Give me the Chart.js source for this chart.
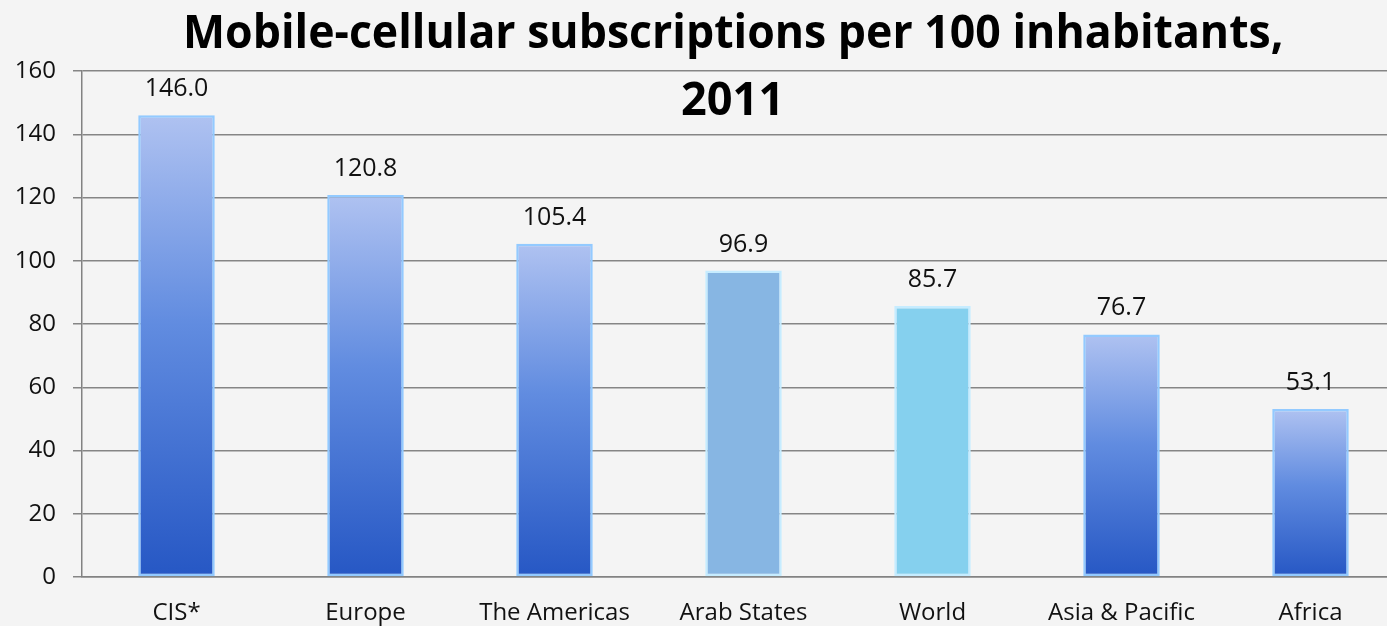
<!DOCTYPE html>
<html>
<head>
<meta charset="utf-8">
<script src="https://cdn.jsdelivr.net/npm/chart.js@4.4.1/dist/chart.umd.min.js"></script>
<style>
  html, body { margin: 0; padding: 0; background: #f4f4f4; overflow: hidden; width: 1387px; height: 626px; }
  #wrap { position: absolute; left: 0; top: 0; width: 1406px; height: 626px; }
  #title { position: absolute; left: 0; top: -3px; width: 1466px; text-align: center; font-family: "Open Sans", sans-serif; font-weight: 700; font-size: 46px; line-height: 67px; color: #000; pointer-events: none; }
  #title div { white-space: nowrap; }
  #title span { display: inline-block; transform-origin: center center; }
</style>
</head>
<body>
<div id="wrap"><canvas id="c" width="1406" height="626"></canvas></div>
<div id="title"><div><span id="t1">Mobile-cellular subscriptions per 100 inhabitants,</span></div><div><span id="t2">2011</span></div></div>
<script>
const categories = ["CIS*", "Europe", "The Americas", "Arab States", "World", "Asia & Pacific", "Africa"];
const values = [146.0, 120.8, 105.4, 96.9, 85.7, 76.7, 53.1];
const yTicks = [0, 20, 40, 60, 80, 100, 120, 140, 160];

const solidColors = { 3: "#87b6e3", 4: "#85d0ee" };

function barFill(ctx) {
  const i = ctx.dataIndex;
  if (solidColors[i]) return solidColors[i];
  const chart = ctx.chart;
  const y = chart.scales.y;
  if (!chart.chartArea || !y) return "#5a85d8";
  const top = y.getPixelForValue(values[i]);
  const bottom = y.getPixelForValue(0);
  const g = chart.ctx.createLinearGradient(0, top, 0, bottom);
  g.addColorStop(0, "#afc2f1");
  g.addColorStop(0.45, "#618ce0");
  g.addColorStop(1, "#2657c4");
  return g;
}

const bgPlugin = {
  id: "bg",
  beforeDraw(chart) {
    const c = chart.ctx;
    c.save();
    c.fillStyle = "#f4f4f4";
    c.fillRect(0, 0, chart.width, chart.height);
    c.restore();
  }
};

const labelPlugin = {
  id: "valueLabels",
  afterDatasetsDraw(chart) {
    const c = chart.ctx;
    const meta = chart.getDatasetMeta(0);
    c.save();
    c.font = "25px 'Open Sans'";
    c.fillStyle = "#111";
    c.textAlign = "center";
    c.textBaseline = "alphabetic";
    meta.data.forEach((bar, i) => {
      c.fillText(values[i].toFixed(1), bar.x, bar.y - 19);
    });
    c.restore();
  }
};

new Chart(document.getElementById("c"), {
  type: "bar",
  data: {
    labels: categories,
    datasets: [{
      data: values,
      backgroundColor: barFill,
      borderColor: (ctx) => solidColors[ctx.dataIndex] ? "#c6ecff" : "#93caff",
      borderWidth: 2.5,
      borderSkipped: false,
      categoryPercentage: 1,
      barPercentage: 0.405
    }]
  },
  options: {
    responsive: false,
    devicePixelRatio: 1,
    animation: false,
    layout: { padding: { top: 71, right: 1, left: 0, bottom: 0 } },
    plugins: { legend: { display: false }, tooltip: { enabled: false }, title: { display: false } },
    scales: {
      x: {
        grid: { display: false, drawTicks: false },
        border: { display: true, color: "#828282", width: 1.5 },
        ticks: { font: { family: "Open Sans", size: 24 }, color: "#111", padding: 22, maxRotation: 0 },
        afterFit(s) { s.height = 49; }
      },
      y: {
        min: 0, max: 160,
        afterBuildTicks(s) { s.ticks = yTicks.map(v => ({ value: v })); },
        grid: { color: "#858585", lineWidth: 1.5, tickLength: 9 },
        border: { display: true, color: "#828282", width: 1.5 },
        ticks: { font: { family: "Open Sans", size: 24 }, color: "#111", padding: 17 },
        afterFit(s) { s.width = 82; }
      }
    }
  },
  plugins: [bgPlugin, labelPlugin]
});

function fitTitle() {
  const targets = [["t1", 1100], ["t2", 103]];
  targets.forEach(([id, w]) => {
    const el = document.getElementById(id);
    const cur = el.offsetWidth;
    if (cur > 0) el.style.transform = "scaleX(" + (w / cur) + ")";
  });
}
fitTitle();
if (document.fonts && document.fonts.ready) document.fonts.ready.then(fitTitle);
</script>
</body>
</html>
